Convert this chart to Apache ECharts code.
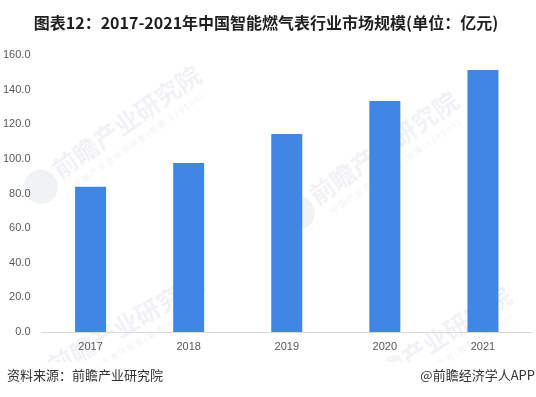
<!DOCTYPE html>
<html>
<head>
<meta charset="utf-8">
<script src="https://cdn.jsdelivr.net/npm/echarts@6/dist/echarts.min.js"></script>
<style>
  html, body { margin: 0; padding: 0; background: #fff; }
  #main { width: 536px; height: 397px; }
</style>
</head>
<body>
<div id="main"></div>
<script>
// 数据
const years = ['2017', '2018', '2019', '2020', '2021'];
const marketSize = [83.9, 97.6, 114.3, 133.4, 151.3];   // 亿元
const yTicks = { min: 0, max: 160, interval: 20 };

const wmColor = 'rgba(214, 219, 228, 0.35)';
const cjk = '"Noto Sans CJK SC", "Microsoft YaHei", sans-serif';

// 水印：前瞻产业研究院
function watermark(x, y, deg) {
    return {
        type: 'group',
        x: x,
        y: y,
        rotation: deg * Math.PI / 180,
        silent: true,
        children: [
            {
                type: 'circle',
                shape: { cx: -20, cy: 4, r: 17 },
                style: { fill: wmColor }
            },
            {
                type: 'text',
                x: 0, y: 0,
                style: {
                    text: '前瞻产业研究院',
                    font: 'bold 25px ' + cjk,
                    fill: wmColor,
                    textVerticalAlign: 'middle'
                }
            },
            {
                type: 'text',
                x: 8, y: 22,
                style: {
                    text: '中 国 产 业 咨 询 领 导 者 ( 股 票 : 8 3 9 5 9 9 )',
                    font: '8px ' + cjk,
                    fill: wmColor,
                    textVerticalAlign: 'middle'
                }
            }
        ]
    };
}

const chart = echarts.init(document.getElementById('main'));
const option = {
    backgroundColor: '#fff',
    animation: false,
    title: {
        text: '图表12：2017-2021年中国智能燃气表行业市场规模(单位：亿元)',
        left: 261,
        textAlign: 'center',
        top: 10,
        textStyle: {
            fontFamily: cjk,
            fontSize: 16,
            fontWeight: 'bold',
            color: '#1f1f1f'
        }
    },
    grid: { left: 40, right: 4, top: 55, bottom: 65 },
    xAxis: {
        type: 'category',
        data: years,
        axisLine: { lineStyle: { color: '#d9d9d9', width: 1 } },
        axisTick: { show: false },
        axisLabel: { color: '#595959', fontSize: 11, margin: 9, fontFamily: 'Arial, "Liberation Sans", sans-serif' }
    },
    yAxis: {
        type: 'value',
        min: yTicks.min,
        max: yTicks.max,
        interval: yTicks.interval,
        axisLine: { show: false },
        axisTick: { show: false },
        splitLine: { show: false },
        axisLabel: {
            color: '#595959',
            fontSize: 11,
            margin: 11,
            fontFamily: 'Arial, "Liberation Sans", sans-serif',
            formatter: v => v.toFixed(1)
        }
    },
    series: [{
        type: 'bar',
        data: marketSize,
        barWidth: 31,
        itemStyle: { color: '#4186e2' },
        z: 5
    }],
    graphic: [
        watermark(55, 172, 35),
        watermark(312, 198, 35),
        watermark(50, 368, 30),
        watermark(362, 388, 33),
        {
            type: 'rect',
            left: 0,
            top: 362,
            shape: { width: 536, height: 35 },
            style: { fill: '#fff' },
            silent: true
        },
        {
            type: 'text',
            left: 7,
            top: 369,
            style: {
                text: '资料来源：前瞻产业研究院',
                font: '13px ' + cjk,
                fill: '#333'
            }
        },
        {
            type: 'text',
            right: 1,
            top: 369,
            style: {
                text: '@前瞻经济学人APP',
                font: '13px ' + cjk,
                fill: '#333'
            }
        }
    ]
};
chart.setOption(option);
</script>
</body>
</html>
